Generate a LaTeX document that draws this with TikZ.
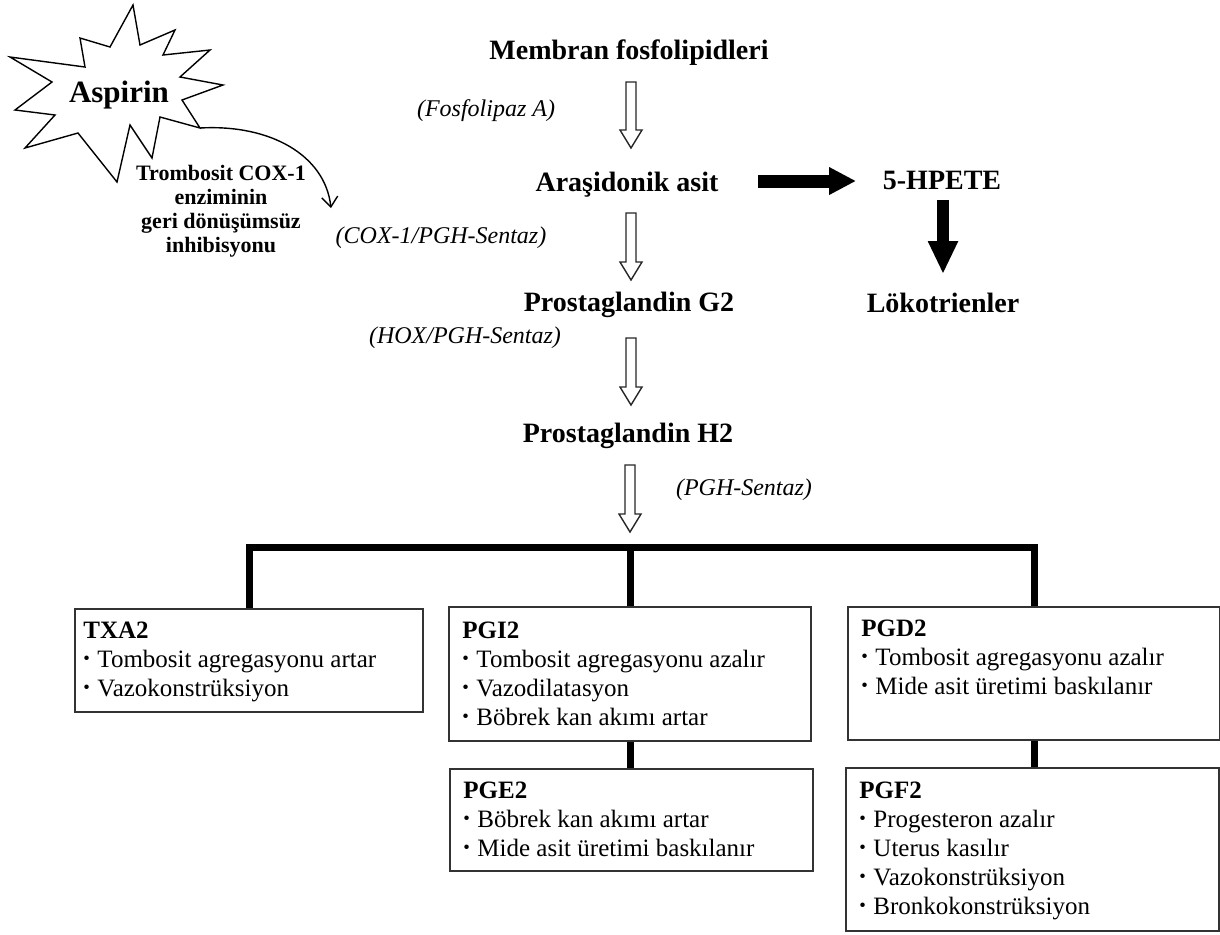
\documentclass[tikz,border=0pt]{standalone}
\usepackage{fontspec}
\setmainfont{Liberation Serif}
\usepackage{graphicx}
\usetikzlibrary{arrows.meta,calc}
\newcommand\hollowarrow[2]{%
  \draw[hollow] ($(#1)+(-5,0)$) -- ($(#2)+(-5,-18)$) -- ($(#2)+(-11,-18)$) -- (#2)
    -- ($(#2)+(11,-18)$) -- ($(#2)+(5,-18)$) -- ($(#1)+(5,0)$) -- cycle;}
\newcommand\bul{\raisebox{0.1em}{\scalebox{0.75}{•}}\hspace{0.3em}}
\tikzset{
  title/.style={font=\fontsize{14pt}{16pt}\selectfont\bfseries, anchor=base, inner sep=0pt},
  enz/.style={font=\fontsize{12pt}{14pt}\selectfont\itshape, anchor=base, inner sep=0pt},
  aspfont/.style={font=\fontsize{15.5pt}{17pt}\selectfont\bfseries, anchor=base, inner sep=0pt},
  aspnote/.style={font=\fontsize{11pt}{12pt}\selectfont\bfseries, anchor=base, inner sep=0pt},
  box/.style={draw=black!80, line width=1pt, anchor=north west, inner sep=0pt, fill=white},
  boxtext/.style={font=\fontsize{12.5pt}{14.5pt}\selectfont, anchor=base west, inner sep=0pt},
  bar/.style={line width=3.5pt, line join=miter},
  hollow/.style={draw=black!85, line width=0.7pt, fill=white, line join=miter},
  blackarrow/.style={line width=6.5pt},
  curvearrow/.style={line width=0.7pt, -{Straight Barb[length=5pt,width=8pt]}},
}
\begin{document}
\begin{tikzpicture}[x=0.5pt,y=-0.5pt]
\useasboundingbox (0,0) rectangle (1220,934);
% Aspirin star
\draw[line width=0.7pt, fill=white, line join=miter]
  (133,5) -- (140,45) -- (175,30) -- (163,55) -- (210,50) -- (180,77) -- (223,85)
  -- (182,100) -- (200,128) coordinate (starTip) -- (160,117) -- (152,158) -- (130,125)
  -- (117,182) -- (78,133) -- (25,148) -- (55,115) -- (15,110) -- (52,82) -- (10,57)
  -- (85,67) -- (80,38) -- (110,47) -- cycle;
\node[aspfont] (asp) at (119,102) {Aspirin};
\node[aspnote] (note) at (221,180) {\begin{tabular}[t]{@{}c@{}}Trombosit COX-1\\enziminin\\geri dönüşümsüz\\inhibisyonu\end{tabular}};
\coordinate (inhTip) at (331,208);
\draw[curvearrow] (starTip) .. controls (270,124) and (325,155) .. (inhTip);

% main flow
\node[title] (mem) at (629,59) {Membran fosfolipidleri};
\node[enz] (fos) at (486,116) {(Fosfolipaz A)};
\node[title] (ara) at (627,191) {Araşidonik asit};
\node[title] (hpete) at (942,189) {5-HPETE};
\node[title] (lok) at (943,312) {Lökotrienler};
\node[enz] (cox) at (441,243) {(COX-1/PGH-Sentaz)};
\node[title] (pg2) at (629,311) {Prostaglandin G2};
\node[enz] (hox) at (465,343) {(HOX/PGH-Sentaz)};
\node[title] (ph2) at (628,442) {Prostaglandin H2};
\node[enz] (pgh) at (744,495) {(PGH-Sentaz)};

\coordinate (a1s) at (631,82);  \coordinate (a1e) at (631,148);
\coordinate (a2s) at (631,213); \coordinate (a2e) at (631,280);
\coordinate (a3s) at (631,338); \coordinate (a3e) at (631,405);
\coordinate (a4s) at (630,465); \coordinate (a4e) at (630,532);
\hollowarrow{a1s}{a1e}
\hollowarrow{a2s}{a2e}
\hollowarrow{a3s}{a3e}
\hollowarrow{a4s}{a4e}

\coordinate (b1s) at (758,181); \coordinate (b1e) at (856,181);
\coordinate (b2s) at (943,200); \coordinate (b2e) at (943,274);
\draw[blackarrow, -{Triangle[length=13.5pt,width=13pt]}] (b1s) -- (b1e);
\draw[blackarrow, line width=6pt, -{Triangle[length=16.5pt,width=14pt]}] (b2s) -- (b2e);

% boxes
\node[box, minimum width=174pt, minimum height=51.5pt] (txa) at (74,608) {};
\node[box, minimum width=181pt, minimum height=67pt] (pgi) at (448,606) {};
\node[box, minimum width=181.5pt, minimum height=51pt] (pge) at (449,768) {};
\node[box, minimum width=186pt, minimum height=66.5pt] (pgd) at (847,606) {};
\node[box, minimum width=186.5pt, minimum height=81.5pt] (pgf) at (845,767) {};

\node[boxtext] (txaT) at (83,638) {\begin{tabular}[t]{@{}l@{}}\textbf{TXA2}\\\bul Tombosit agregasyonu artar\\\bul Vazokonstrüksiyon\end{tabular}};
\node[boxtext] (pgiT) at (462,638) {\begin{tabular}[t]{@{}l@{}}\textbf{PGI2}\\\bul Tombosit agregasyonu azalır\\\bul Vazodilatasyon\\\bul Böbrek kan akımı artar\end{tabular}};
\node[boxtext] (pgeT) at (463,798) {\begin{tabular}[t]{@{}l@{}}\textbf{PGE2}\\\bul Böbrek kan akımı artar\\\bul Mide asit üretimi baskılanır\end{tabular}};
\node[boxtext] (pgdT) at (861,636) {\begin{tabular}[t]{@{}l@{}}\textbf{PGD2}\\\bul Tombosit agregasyonu azalır\\\bul Mide asit üretimi baskılanır\end{tabular}};
\node[boxtext] (pgfT) at (859,798) {\begin{tabular}[t]{@{}l@{}}\textbf{PGF2}\\\bul Progesteron azalır\\\bul Uterus kasılır\\\bul Vazokonstrüksiyon\\\bul Bronkokonstrüksiyon\end{tabular}};

% connectors
\coordinate (barM) at (631,547);
\draw[bar] (txa.north) -- (txa.north |- barM) -- (pgd.north |- barM) -- (pgd.north);
\draw[bar] (pgi.north |- barM) -- (pgi.north);
\draw[bar] (pgi.south) -- (pgi.south |- pge.north);
\draw[bar] (pgd.south) -- (pgd.south |- pgf.north);
\end{tikzpicture}
\end{document}
